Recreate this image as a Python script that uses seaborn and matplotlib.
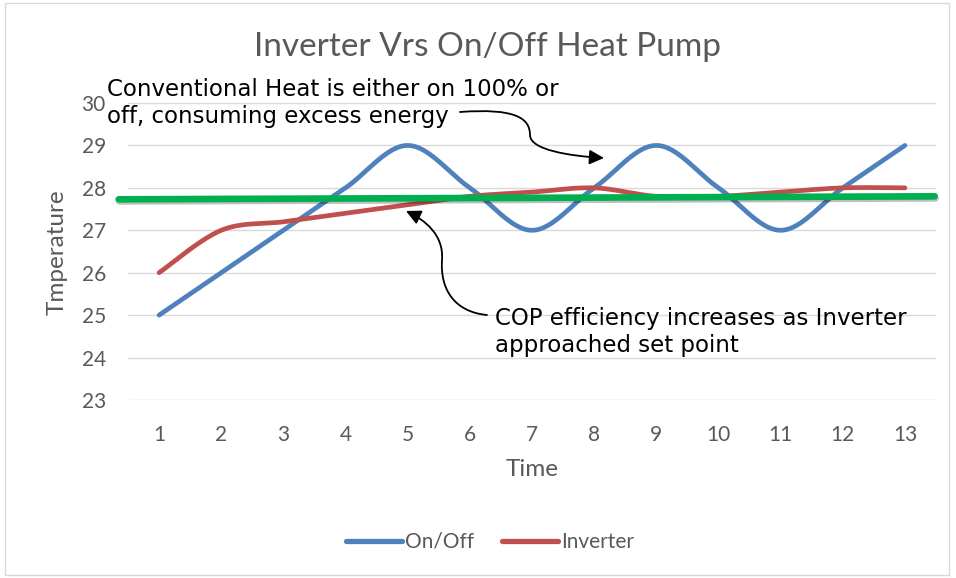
import numpy as np
import pandas as pd
import matplotlib.pyplot as plt
import matplotlib.patheffects as pe
from matplotlib.patches import FancyArrowPatch, Rectangle
from matplotlib.path import Path
import seaborn as sns

# values
time = list(range(1, 14))
on_off = [25, 26, 27, 28, 29, 28, 27, 28, 29, 28, 27, 28, 29]
inverter = [26, 27, 27.2, 27.4, 27.6, 27.8, 27.9, 28, 27.8, 27.8, 27.9, 28, 28]
set_point_x = [0.35, 13.48]
set_point_y = [27.73, 27.8]
y_ticks = [23, 24, 25, 26, 27, 28, 29, 30]


# excel style smoothed line (bezier through every point)
def smooth(x, y, n=25):
    pts = np.column_stack([x, y]).astype(float)
    out = [pts[0]]
    for i in range(len(pts) - 1):
        p0 = pts[i - 1] if i > 0 else pts[i]
        p1, p2 = pts[i], pts[i + 1]
        p3 = pts[i + 2] if i + 2 < len(pts) else pts[i + 1]
        c1 = p1 + (p2 - p0) / 6
        c2 = p2 - (p3 - p1) / 6
        t = np.linspace(0, 1, n)[1:, None]
        seg = (1 - t) ** 3 * p1 + 3 * (1 - t) ** 2 * t * c1 + 3 * (1 - t) * t ** 2 * c2 + t ** 3 * p2
        out.extend(seg)
    out = np.array(out)
    return out[:, 0], out[:, 1]


frames = []
for name, vals in [('On/Off', on_off), ('Inverter', inverter)]:
    sx, sy = smooth(time, vals)
    frames.append(pd.DataFrame({'Time': sx, 'Temp': sy, 'Series': name}))
df = pd.concat(frames, ignore_index=True)

sns.set_theme(style="white")
plt.rcParams['font.family'] = ['Lato', 'DejaVu Sans']

W, H = 956, 578
fig = plt.figure(figsize=(W / 100, H / 100), dpi=100)
ax = fig.add_axes([128 / W, 1 - 400 / H, (936 - 128) / W, (400 - 103) / H])

grey = '#595959'
blue = '#4F81BD'
red = '#C0504D'

sns.lineplot(data=df, x='Time', y='Temp', hue='Series', palette=[blue, red],
             estimator=None, sort=False, lw=3.4, ax=ax, solid_capstyle='round')

ax.plot(set_point_x, set_point_y, color='#00B050', lw=4.8, clip_on=False, zorder=5,
        path_effects=[pe.SimpleLineShadow(offset=(0.5, -1.5), shadow_color='black', alpha=0.25),
                      pe.Normal()])

ax.set_xlim(0.5, 13.5)
ax.set_ylim(23, 30)
ax.set_xticks(time)
ax.set_yticks(y_ticks)
ax.tick_params(axis='both', length=0, labelsize=15, labelcolor=grey)
ax.tick_params(axis='x', pad=18)
ax.tick_params(axis='y', pad=16)
ax.grid(axis='y', color='#D9D9D9', lw=1)
for s in ax.spines.values():
    s.set_visible(False)
ax.set_xlabel('')
ax.set_ylabel('')
fig.text(532 / W, 1 - 470 / H, 'Time', ha='center', va='center', fontsize=17.5, color=grey)
fig.text(57 / W, 1 - 252 / H, 'Tmperature', ha='center', va='center', rotation=90,
         fontsize=17.5, color=grey)

fig.text(487 / W, 1 - 47 / H, 'Inverter Vrs On/Off Heat Pump', ha='center', va='center',
         fontsize=24, color=grey)

# legend at the bottom
leg = ax.legend(loc='center', bbox_to_anchor=(490 / W, 1 - 542 / H),
                bbox_transform=fig.transFigure, ncol=2, frameon=False,
                fontsize=15, handlelength=2.7, columnspacing=1.3, handletextpad=0.15)
for t in leg.get_texts():
    t.set_color(grey)
for line in leg.get_lines():
    line.set_linewidth(3.8)

# annotations
fig.text(107 / W, 1 - 103 / H, 'Conventional Heat is either on 100% or\noff, consuming excess energy',
         ha='left', va='center', fontsize=16.5, family=['DejaVu Sans'], linespacing=1.25,
         color='black')
fig.text(495 / W, 1 - 332 / H, 'COP efficiency increases as Inverter\napproached set point',
         ha='left', va='center', fontsize=16.5, family=['DejaVu Sans'], linespacing=1.25,
         color='black')


def px(x, y):
    return (x / W, 1 - y / H)


arrow1 = Path([px(460, 112), px(515, 108), px(530, 118), px(530, 135),
               px(530, 150), px(570, 156), px(604, 158)],
              [Path.MOVETO, Path.CURVE4, Path.CURVE4, Path.CURVE4,
               Path.CURVE4, Path.CURVE4, Path.CURVE4])
arrow2 = Path([px(487, 315), px(455, 312), px(440, 290), px(442, 260),
               px(444, 235), px(425, 220), px(406, 211)],
              [Path.MOVETO, Path.CURVE4, Path.CURVE4, Path.CURVE4,
               Path.CURVE4, Path.CURVE4, Path.CURVE4])
for p in [arrow1, arrow2]:
    fig.patches.append(FancyArrowPatch(path=p, arrowstyle='-|>', mutation_scale=22,
                                       color='black', lw=1.3, transform=fig.transFigure))

# chart border
fig.patches.append(Rectangle((5 / W, 3 / H), 944 / W, 572 / H, transform=fig.transFigure,
                             fill=False, edgecolor='#D9D9D9', lw=1))

fig.savefig('out.png', dpi=100)
